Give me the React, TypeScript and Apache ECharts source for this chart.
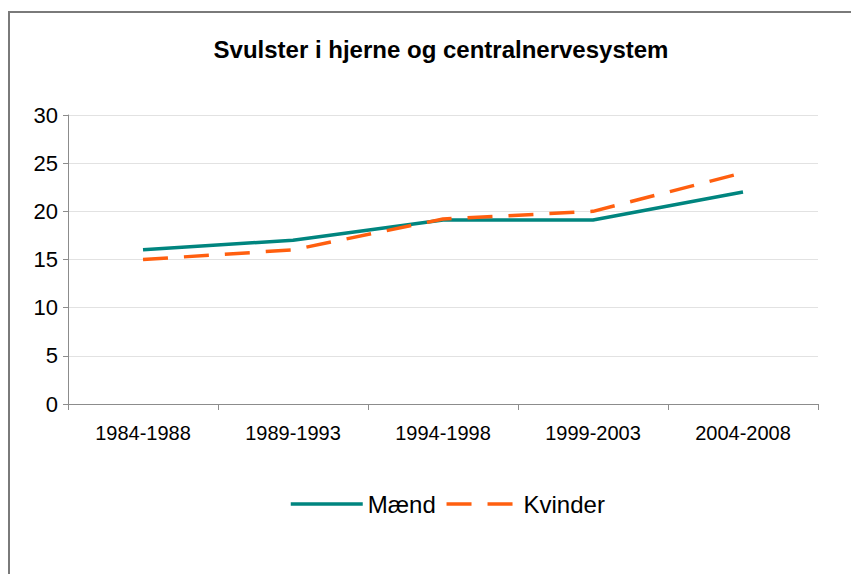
import React, { useEffect, useRef } from "react";
import * as echarts from "echarts";

const categories = ["1984-1988", "1989-1993", "1994-1998", "1999-2003", "2004-2008"];
const maend = [16, 17, 19.1, 19.1, 22];
const kvinder = [15, 16, 19.2, 20, 24];
const seriesNames = ["Mænd", "Kvinder"];
const title = "Svulster i hjerne og centralnervesystem";

export default function App() {
  const ref = useRef<HTMLDivElement>(null);
  useEffect(() => {
    if (!ref.current) return;
    const chart = echarts.init(ref.current, null, { renderer: "svg" });
    const font = "'Liberation Sans', Arial, sans-serif";
    chart.setOption({
      animation: false,
      backgroundColor: "#ffffff",
      textStyle: { fontFamily: font },
      title: {
        text: title,
        left: 436,
        textAlign: "center",
        top: 32,
        textStyle: { fontSize: 24, fontWeight: "bold", color: "#000", fontFamily: font },
      },
      graphic: [
        {
          type: "rect",
          shape: { x: 9, y: 12, width: 900, height: 620 },
          style: { fill: "none", stroke: "#7a7a7a", lineWidth: 2 },
          silent: true,
        },
      ],
      legend: {
        data: seriesNames,
        left: 289,
        top: 492,
        padding: 0,
        itemWidth: 72,
        itemHeight: 14,
        itemGap: 9,
        itemStyle: { opacity: 0 },
        lineStyle: { width: 3.5 },
        textStyle: { fontSize: 24, color: "#000", fontFamily: font },
      },
      grid: { left: 68, right: 33, top: 115, bottom: 170 },
      xAxis: {
        type: "category",
        data: categories,
        boundaryGap: true,
        axisLine: { lineStyle: { color: "#8c8c8c", width: 1 } },
        axisTick: { show: true, length: 6, lineStyle: { color: "#8c8c8c" } },
        axisLabel: { fontSize: 20, color: "#000", margin: 19, fontFamily: font },
      },
      yAxis: {
        type: "value",
        min: 0,
        max: 30,
        interval: 5,
        axisLine: { show: true, lineStyle: { color: "#8c8c8c", width: 1 } },
        axisTick: { show: true, length: 5, lineStyle: { color: "#8c8c8c" } },
        axisLabel: { fontSize: 22, color: "#000", margin: 10, fontFamily: font },
        splitLine: { show: true, lineStyle: { color: "#e2e2e2", width: 1 } },
      },
      series: [
        {
          name: seriesNames[0],
          type: "line",
          data: maend,
          symbol: "none",
          itemStyle: { color: "#00857f" },
          lineStyle: { color: "#00857f", width: 3.5 },
        },
        {
          name: seriesNames[1],
          type: "line",
          data: kvinder,
          symbol: "none",
          itemStyle: { color: "#ff5f0f" },
          lineStyle: { color: "#ff5f0f", width: 3.5, type: [25, 16] },
        },
      ],
    });
    return () => chart.dispose();
  }, []);
  return (
    <div
      ref={ref}
      style={{ position: "absolute", left: 0, top: 0, width: 851, height: 574 }}
    />
  );
}
